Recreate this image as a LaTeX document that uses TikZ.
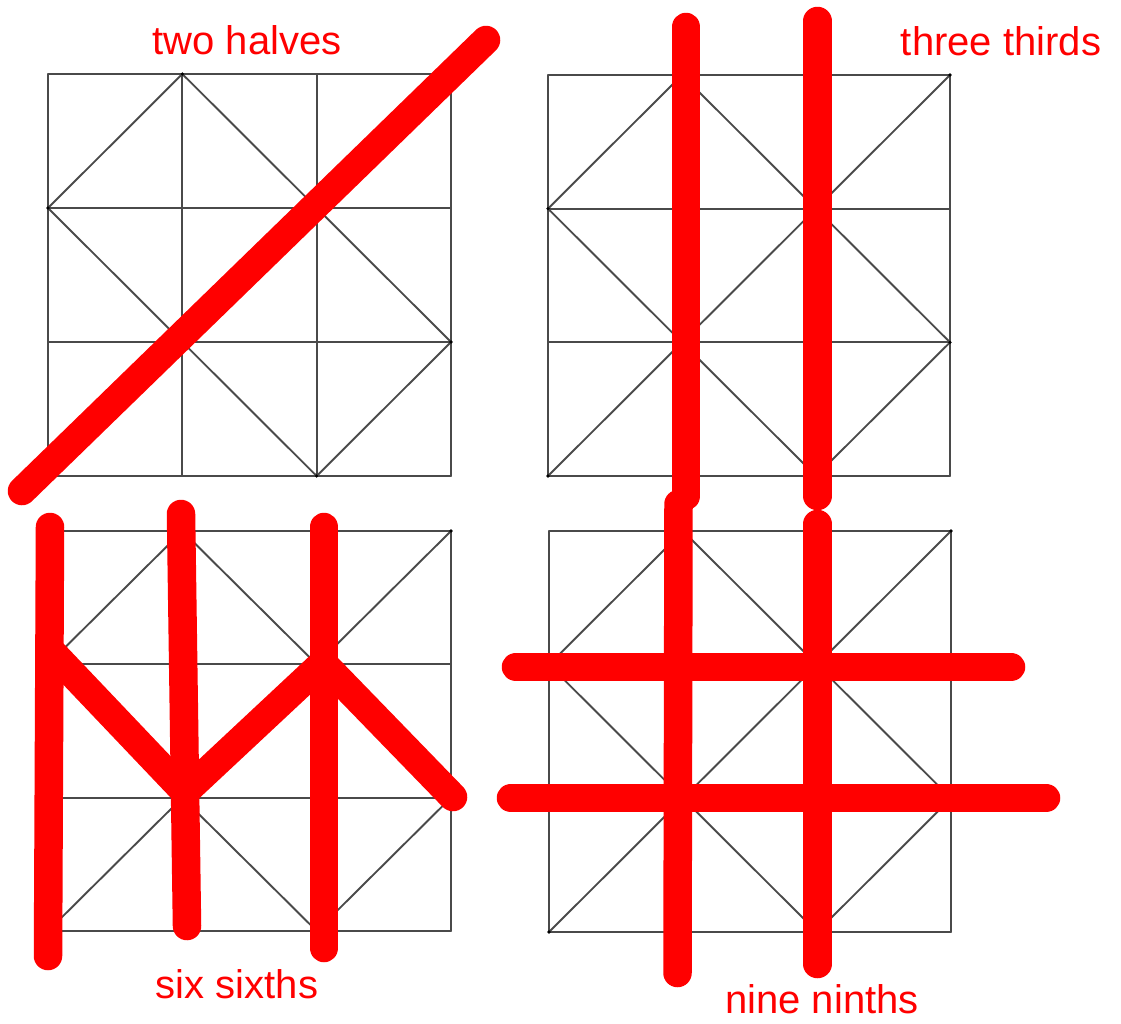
\documentclass[tikz,border=0pt]{standalone}
\usepackage{fontspec}
\setmainfont{Liberation Sans}
\definecolor{markred}{HTML}{FF0000}
\definecolor{gridgray}{HTML}{4A4A4A}
\tikzset{
  gridline/.style={draw=gridgray,line width=1.9pt,line cap=round,line join=round},
  stroke/.style={draw=markred,line width=28.5pt,line cap=round,line join=round},
  caption/.style={text=markred,font=\fontsize{40}{48}\selectfont,anchor=base,inner sep=0pt}
}
\newcommand\fracgrid[4]{% left, top, right, bottom (pixels)
  \pgfmathsetmacro\gw{(#3-#1)/3}%
  \pgfmathsetmacro\gh{(#4-#2)/3}%
  \begin{scope}[shift={(#1pt,-#4pt)},x=\gw pt,y=\gh pt]
    \foreach \i in {0,1,2,3}{
      \draw[gridline] (\i,0) -- (\i,3);
      \draw[gridline] (0,\i) -- (3,\i);
    }
    \draw[gridline] (0,0) -- (3,3);
    \draw[gridline] (0,2) -- (1,3) -- (3,1) -- (2,0) -- cycle;
    \foreach \p in {(0,0),(3,3),(1,3),(0,2),(3,1),(2,0)}
      \fill[black] \p circle (1.8pt);
  \end{scope}}
\begin{document}
\begin{tikzpicture}[x=1pt,y=-1pt]
  \useasboundingbox[fill=white] (0,0) rectangle (1121,1023);
  % grids
  \fracgrid{48}{74}{451}{476}
  \fracgrid{548}{75}{950}{476}
  \fracgrid{48}{531}{451}{931}
  \fracgrid{549}{531}{951}{932}
  % two halves
  \draw[stroke] (22,491) -- (486,40);
  % three thirds
  \draw[stroke] (686,27) -- (686,496);
  \draw[stroke] (817.5,21) -- (817.5,496);
  % six sixths
  \draw[stroke] (50,527) -- (48,956);
  \draw[stroke] (181,514) -- (187,926);
  \draw[stroke] (324,527) -- (324,948);
  \draw[stroke] (50,650) -- (185,792) -- (323,663) -- (453,797);
  % nine ninths
  \draw[stroke] (678.5,504) -- (677.5,973);
  \draw[stroke] (817.5,524) -- (817.5,964);
  \draw[stroke] (516,667) -- (1011,667);
  \draw[stroke] (511,798) -- (1046,798);
  % captions
  \node[caption] (twohalves) at (247,54) {two halves};
  \node[caption] (threethirds) at (1001,55) {three thirds};
  \node[caption] (sixsixths) at (237,998) {six sixths};
  \node[caption] (nineninths) at (822,1013) {nine ninths};
\end{tikzpicture}
\end{document}
